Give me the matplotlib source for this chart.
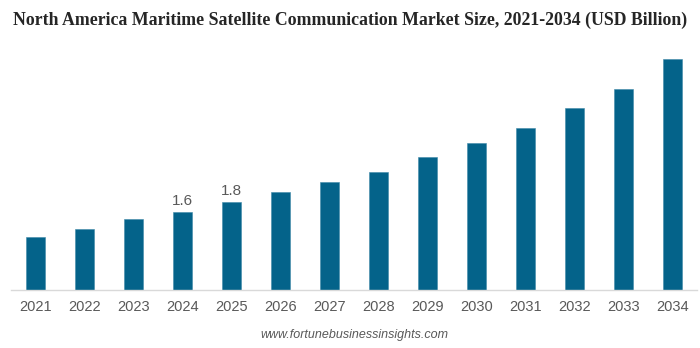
import numpy as np
import matplotlib.pyplot as plt

years = ['2021', '2022', '2023', '2024', '2025', '2026', '2027',
         '2028', '2029', '2030', '2031', '2032', '2033', '2034']
market_size = [1.09, 1.25, 1.45, 1.6, 1.8, 2.0, 2.2,
               2.41, 2.71, 3.01, 3.31, 3.72, 4.12, 4.72]
labelled = {'2024': '1.6', '2025': '1.8'}

bar_color = '#04638a'
text_gray = '#595959'

fig = plt.figure(figsize=(7, 3.48), dpi=100)
ax = fig.add_axes([11 / 700, 1 - 290 / 348, 686 / 700, 240 / 348])

x = np.arange(len(years))
ax.bar(x, market_size, width=0.39, color=bar_color, edgecolor='#3f8aa8', linewidth=0.4)

for i, yr in enumerate(years):
    if yr in labelled:
        ax.annotate(labelled[yr], (x[i], market_size[i]), xytext=(0, 3),
                    textcoords='offset points', ha='center', va='bottom',
                    fontsize=11, color=text_gray, family='Liberation Sans')

ax.set_xlim(-0.5, len(years) - 0.5)
ax.set_ylim(0, 240 / 48.9)
ax.set_xticks(x)
ax.set_xticklabels(years, fontsize=10.5, color=text_gray, family='Liberation Sans')
ax.tick_params(axis='x', length=0, pad=7)
ax.set_yticks([])
for side in ['top', 'right', 'left']:
    ax.spines[side].set_visible(False)
ax.spines['bottom'].set_color('#d9d9d9')
ax.spines['bottom'].set_linewidth(1)

fig.text(350 / 700, 1 - 20 / 348, 'North America Maritime Satellite Communication Market Size, 2021-2034 (USD Billion)',
         ha='center', va='center', fontsize=12.8, fontweight='bold',
         family='Liberation Serif', color='#262626')
fig.text(354 / 700, 1 - 335 / 348, 'www.fortunebusinessinsights.com', ha='center', va='center',
         fontsize=9, style='italic', color=text_gray, family='Liberation Sans')

fig.savefig('out.png', dpi=100)
